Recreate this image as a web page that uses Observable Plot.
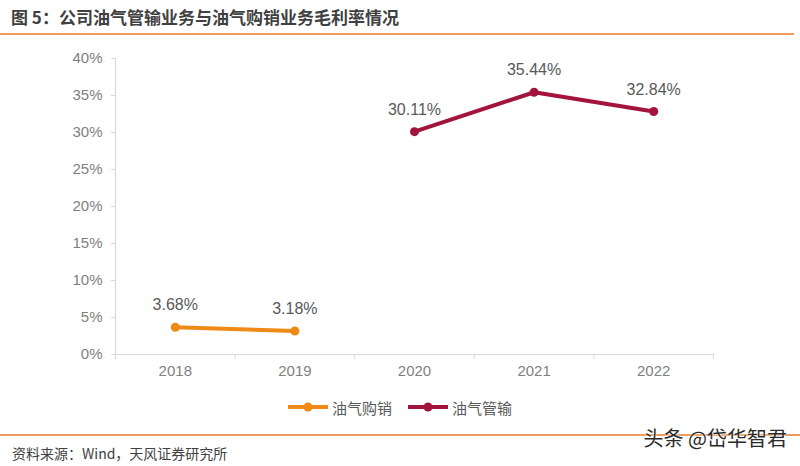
<!DOCTYPE html>
<html>
<head>
<meta charset="utf-8">
<script src="https://cdn.jsdelivr.net/npm/d3@7"></script>
<script src="https://cdn.jsdelivr.net/npm/@observablehq/plot@0.6"></script>
<style>
  html, body { margin: 0; padding: 0; background: #fff; }
  #wrap { position: relative; width: 800px; height: 466px; overflow: hidden; font-family: "Liberation Sans", "Noto Sans CJK SC", sans-serif; }
  #title { position: absolute; left: 11px; top: 5px; font-family: "Noto Sans CJK SC", sans-serif; font-weight: bold; font-size: 17px; color: #404040; white-space: nowrap; line-height: 24px; }
  .rule { position: absolute; left: 0; height: 2px; background: #EE9B5C; }
  #chart { position: absolute; left: 0; top: 36px; }
  #legend { position: absolute; top: 396px; left: 0; width: 800px; height: 22px; }
  .item { position: absolute; top: 0; display: flex; align-items: center; height: 22px; font-family: "Noto Sans CJK SC", sans-serif; font-size: 15px; color: #595959; }
  .item svg { margin-right: 4px; }
  #source { position: absolute; left: 12px; top: 442px; font-family: "Noto Sans CJK SC", sans-serif; font-size: 14px; color: #404040; line-height: 22px; white-space: nowrap; }
  #mark { position: absolute; right: 13px; top: 424px; font-family: "Noto Sans CJK SC", sans-serif; font-size: 20px; color: #2a2a2a; line-height: 28px; white-space: nowrap; -webkit-text-stroke: 0px; text-shadow: 0 0 2px #fff, 0 0 2px #fff; }
</style>
</head>
<body>
<div id="wrap">
  <div id="title"></div>
  <div class="rule" style="top:33px; width:794px;"></div>
  <div id="chart"></div>
  <div id="legend"></div>
  <div class="rule" style="top:434px; width:800px;"></div>
  <div id="source"></div>
  <div id="mark"></div>
</div>
<script>
const titleText = "图 5：公司油气管输业务与油气购销业务毛利率情况";
const sourceText = "资料来源：Wind，天风证券研究所";
const watermark = "头条 @岱华智君";

const years = ["2018", "2019", "2020", "2021", "2022"];
const seriesNames = ["油气购销", "油气管输"];
const purchaseValues = [3.68, 3.18, null, null, null];   // 油气购销
const pipelineValues = [null, null, 30.11, 35.44, 32.84]; // 油气管输
const yTicks = [0, 5, 10, 15, 20, 25, 30, 35, 40];
const colors = ["#EF8A17", "#A3143D"];

document.getElementById("title").textContent = titleText;
document.getElementById("source").textContent = sourceText;
document.getElementById("mark").textContent = watermark;

const rows = [];
[purchaseValues, pipelineValues].forEach((vals, s) => {
  vals.forEach((v, i) => {
    if (v != null) rows.push({series: seriesNames[s], i, year: years[i], v});
  });
});

const idx = d3.range(years.length);
const bounds = d3.range(years.length + 1).map(i => i - 0.5);

const chart = Plot.plot({
  width: 800,
  height: 350,
  marginTop: 22,
  marginBottom: 32,
  marginLeft: 115,
  marginRight: 87,
  style: {fontFamily: "Liberation Sans, Arial, sans-serif", background: "transparent"},
  x: {type: "linear", domain: [-0.5, years.length - 0.5]},
  y: {domain: [0, 40]},
  color: {domain: seriesNames, range: colors},
  marks: [
    Plot.ruleX([-0.5], {stroke: "#d9d9d9", strokeWidth: 1.2}),
    Plot.ruleY([0], {stroke: "#d9d9d9", strokeWidth: 1.2}),
    Plot.axisY({ticks: yTicks, tickSize: 4, tickFormat: () => "", color: "#d9d9d9", label: null}),
    Plot.axisY({ticks: yTicks, tickSize: 0, tickPadding: 13, tickFormat: d => d + "%", color: "#7f7f7f", fontSize: 15, label: null}),
    Plot.axisX({ticks: bounds, tickSize: 5, tickFormat: () => "", color: "#d9d9d9", label: null}),
    Plot.axisX({ticks: idx, tickSize: 0, tickPadding: 11, tickFormat: i => years[i], color: "#7f7f7f", fontSize: 15, label: null}),
    Plot.line(rows, {x: "i", y: "v", z: "series", stroke: "series", strokeWidth: 4, curve: "linear"}),
    Plot.dot(rows, {x: "i", y: "v", fill: "series", r: 4.5, stroke: "none"}),
    Plot.text(rows, {x: "i", y: "v", text: d => d.v.toFixed(2) + "%", dy: -22, fontSize: 16, fill: "#595959"})
  ]
});
document.getElementById("chart").appendChild(chart);

// legend
const legend = document.getElementById("legend");
const legendX = [288, 408];
seriesNames.forEach((name, k) => {
  const item = document.createElement("div");
  item.className = "item";
  item.style.left = legendX[k] + "px";
  const svg = d3.create("svg").attr("width", 40).attr("height", 12);
  svg.append("line").attr("x1", 0).attr("x2", 40).attr("y1", 6).attr("y2", 6)
    .attr("stroke", colors[k]).attr("stroke-width", 4);
  svg.append("circle").attr("cx", 20).attr("cy", 6).attr("r", 4.5).attr("fill", colors[k]);
  item.appendChild(svg.node());
  const span = document.createElement("span");
  span.textContent = name;
  item.appendChild(span);
  legend.appendChild(item);
});
</script>
</body>
</html>
